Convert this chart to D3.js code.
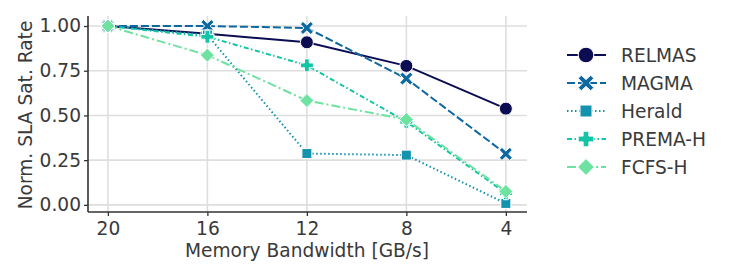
<!DOCTYPE html>
<html><head><meta charset="utf-8">
<script src="https://cdn.jsdelivr.net/npm/d3@7"></script>
<style>body{margin:0;background:#fff}svg{display:block}text{font-family:"DejaVu Sans",sans-serif;fill:#3a3a3a}</style>
</head><body><svg id="c" width="731" height="278"></svg>
<script>
const bandwidths = [20, 16, 12, 8, 4];
const seriesNames = ["RELMAS", "MAGMA", "Herald", "PREMA-H", "FCFS-H"];
const relmas = [1.0, 0.957, 0.909, 0.777, 0.538];
const magma = [1.0, 1.0, 0.989, 0.706, 0.285];
const herald = [1.0, 0.95, 0.287, 0.278, 0.008];
const premaH = [1.0, 0.94, 0.78, 0.465, 0.065];
const fcfsH = [1.0, 0.837, 0.583, 0.477, 0.075];
const yTicks = [0, 0.25, 0.5, 0.75, 1.0];
const colors = ["#0c0c52", "#0d68a0", "#1393ad", "#13c4a6", "#6ee2a0"];
const dashes = [null, "8,3", "1.5,2.5", "5,2.5,1.5,2.5", "9,3,2,3"];
const markers = ["circle", "x", "square", "plus", "diamond"];
const values = [relmas, magma, herald, premaH, fcfsH];

const FS = 18.6;
const svg = d3.select("#c");
const x = d3.scaleLinear().domain([20.8, 3.15]).range([88, 527]);
const y = d3.scaleLinear().domain([-0.04, 1.056]).range([212, 16]);

// grid
svg.append("g").selectAll("line").data(yTicks).join("line")
  .attr("x1", 88).attr("x2", 527).attr("y1", d => y(d)).attr("y2", d => y(d))
  .attr("stroke", "#dedede").attr("stroke-width", 1.6);
svg.append("g").selectAll("line").data(bandwidths).join("line")
  .attr("y1", 16).attr("y2", 212).attr("x1", d => x(d)).attr("x2", d => x(d))
  .attr("stroke", "#dedede").attr("stroke-width", 1.6);

// axes
const xa = svg.append("g").attr("transform", "translate(0,212)")
  .call(d3.axisBottom(x).tickValues(bandwidths).tickSize(4).tickPadding(6).tickFormat(d3.format("d")));
const ya = svg.append("g").attr("transform", "translate(88,0)")
  .call(d3.axisLeft(y).tickValues(yTicks).tickSize(4).tickPadding(3).tickFormat(d3.format(".2f")));
[xa, ya].forEach(a => {
  a.attr("font-size", FS).attr("font-family", "DejaVu Sans");
  a.select(".domain").attr("stroke", "#333").attr("stroke-width", 1.6);
  a.selectAll(".tick line").attr("stroke", "#333").attr("stroke-width", 1.3);
  a.selectAll("text").attr("font-size", FS).attr("fill", "#3a3a3a");
});
xa.select(".domain").attr("d", "M88,0H527");
ya.select(".domain").attr("d", "M0,16V212");

svg.append("text").attr("x", 307).attr("y", 257).attr("text-anchor", "middle")
  .attr("font-size", FS).text("Memory Bandwidth [GB/s]");
svg.append("text").attr("transform", "translate(32,115) rotate(-90)").attr("text-anchor", "middle")
  .attr("font-size", FS).text("Norm. SLA Sat. Rate");

function marker(g, type, cx, cy, color, s) {
  s = s || 1;
  let el;
  if (type === "circle") el = g.append("circle").attr("cx", cx).attr("cy", cy).attr("r", 6.5 * s);
  else if (type === "square") el = g.append("rect").attr("x", cx - 5 * s).attr("y", cy - 5 * s).attr("width", 10 * s).attr("height", 10 * s);
  else if (type === "diamond") el = g.append("path").attr("d", `M${cx},${cy - 7 * s}L${cx + 7 * s},${cy}L${cx},${cy + 7 * s}L${cx - 7 * s},${cy}Z`);
  else if (type === "plus") {
    const a = 6.5 * s, b = 2.4 * s;
    el = g.append("path").attr("d", `M${cx - b},${cy - a}H${cx + b}V${cy - b}H${cx + a}V${cy + b}H${cx + b}V${cy + a}H${cx - b}V${cy + b}H${cx - a}V${cy - b}H${cx - b}Z`);
  } else {
    const a = 6.5 * s, b = 2.6 * s;
    const pts = [[-a + b, -a], [0, -b * 1.1], [a - b, -a], [a, -a + b], [b * 1.1, 0], [a, a - b], [a - b, a], [0, b * 1.1], [-a + b, a], [-a, a - b], [-b * 1.1, 0], [-a, -a + b]];
    el = g.append("path").attr("d", "M" + pts.map(p => (cx + p[0]) + "," + (cy + p[1])).join("L") + "Z");
  }
  el.attr("fill", color).attr("stroke", "#fff").attr("stroke-width", 1);
}

const line = d3.line().x((d, i) => x(bandwidths[i])).y(d => y(d));
const plot = svg.append("g");
values.forEach((vals, k) => {
  plot.append("path").attr("d", line(vals)).attr("fill", "none")
    .attr("stroke", colors[k]).attr("stroke-width", 2)
    .attr("stroke-dasharray", dashes[k]);
});
values.forEach((vals, k) => {
  vals.forEach((v, i) => marker(plot, markers[k], x(bandwidths[i]), y(v), colors[k]));
});

// legend
const lg = svg.append("g");
seriesNames.forEach((name, k) => {
  const yy = 55 + k * 28;
  lg.append("line").attr("x1", 567).attr("x2", 606).attr("y1", yy).attr("y2", yy)
    .attr("stroke", colors[k]).attr("stroke-width", 2).attr("stroke-dasharray", dashes[k]);
  marker(lg, markers[k], 586, yy, colors[k], 1.2);
  lg.append("text").attr("x", 621).attr("y", yy + 6.5).attr("font-size", FS).text(name);
});
</script></body></html>
